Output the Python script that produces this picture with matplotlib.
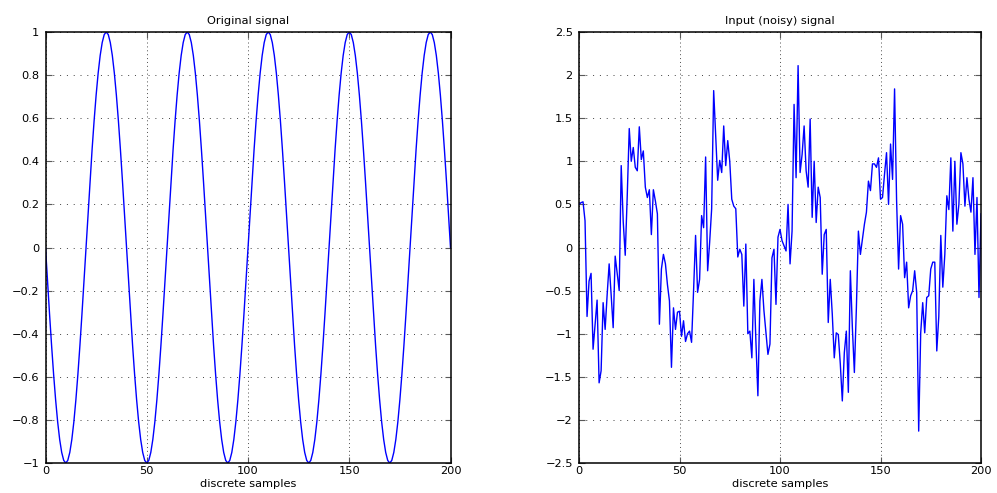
import matplotlib
matplotlib.use("Agg")
import matplotlib.pyplot as plt
from matplotlib.ticker import FuncFormatter

plt.rcParams['font.family'] = ['DejaVu Sans']

# ---- data -------------------------------------------------------------
samples = list(range(201))

original = [
    0, -0.156, -0.309, -0.454, -0.588, -0.707, -0.809, -0.891, -0.951, -0.988,
    -1, -0.988, -0.951, -0.891, -0.809, -0.707, -0.588, -0.454, -0.309, -0.156,
    0, 0.156, 0.309, 0.454, 0.588, 0.707, 0.809, 0.891, 0.951, 0.988,
    1, 0.988, 0.951, 0.891, 0.809, 0.707, 0.588, 0.454, 0.309, 0.156,
    0, -0.156, -0.309, -0.454, -0.588, -0.707, -0.809, -0.891, -0.951, -0.988,
    -1, -0.988, -0.951, -0.891, -0.809, -0.707, -0.588, -0.454, -0.309, -0.156,
    0, 0.156, 0.309, 0.454, 0.588, 0.707, 0.809, 0.891, 0.951, 0.988,
    1, 0.988, 0.951, 0.891, 0.809, 0.707, 0.588, 0.454, 0.309, 0.156,
    0, -0.156, -0.309, -0.454, -0.588, -0.707, -0.809, -0.891, -0.951, -0.988,
    -1, -0.988, -0.951, -0.891, -0.809, -0.707, -0.588, -0.454, -0.309, -0.156,
    0, 0.156, 0.309, 0.454, 0.588, 0.707, 0.809, 0.891, 0.951, 0.988,
    1, 0.988, 0.951, 0.891, 0.809, 0.707, 0.588, 0.454, 0.309, 0.156,
    0, -0.156, -0.309, -0.454, -0.588, -0.707, -0.809, -0.891, -0.951, -0.988,
    -1, -0.988, -0.951, -0.891, -0.809, -0.707, -0.588, -0.454, -0.309, -0.156,
    0, 0.156, 0.309, 0.454, 0.588, 0.707, 0.809, 0.891, 0.951, 0.988,
    1, 0.988, 0.951, 0.891, 0.809, 0.707, 0.588, 0.454, 0.309, 0.156,
    0, -0.156, -0.309, -0.454, -0.588, -0.707, -0.809, -0.891, -0.951, -0.988,
    -1, -0.988, -0.951, -0.891, -0.809, -0.707, -0.588, -0.454, -0.309, -0.156,
    0, 0.156, 0.309, 0.454, 0.588, 0.707, 0.809, 0.891, 0.951, 0.988,
    1, 0.988, 0.951, 0.891, 0.809, 0.707, 0.588, 0.454, 0.309, 0.156,
    0,
]

noisy = [
    0.50, 0.52, 0.53, 0.31, -0.80, -0.39, -0.30, -1.18, -0.90, -0.61,
    -1.57, -1.43, -0.64, -0.95, -0.55, -0.19, -0.55, -0.93, -0.10, -0.30,
    -0.50, 0.95, 0.30, -0.09, 0.60, 1.38, 1.00, 1.16, 0.93, 0.89,
    1.40, 1.02, 1.12, 0.70, 0.58, 0.67, 0.15, 0.67, 0.54, 0.39,
    -0.89, -0.25, -0.08, -0.19, -0.43, -0.62, -1.39, -0.70, -0.95, -0.75,
    -0.74, -1.03, -0.85, -1.09, -1.00, -0.97, -1.10, -0.50, 0.14, -0.52,
    -0.37, 0.37, 0.23, 1.05, -0.27, 0.06, 0.45, 1.82, 1.30, 0.78,
    1.01, 0.87, 1.41, 0.95, 1.24, 1.00, 0.56, 0.48, 0.45, -0.11,
    -0.02, -0.08, -0.68, 0.04, -1.00, -0.97, -1.28, -0.37, -1.08, -1.72,
    -0.62, -0.37, -0.73, -0.99, -1.24, -1.12, -0.12, -0.02, -0.66, 0.12,
    0.21, 0.08, 0.02, -0.04, 0.50, -0.19, 0.19, 1.66, 0.81, 2.11,
    0.87, 1.08, 1.41, 0.89, 0.70, 1.49, 0.35, 1.00, 0.29, 0.70,
    0.58, -0.31, 0.15, 0.21, -0.87, -0.37, -0.77, -1.28, -0.99, -1.01,
    -1.35, -1.78, -1.22, -0.97, -1.68, -0.27, -0.93, -1.45, -0.70, 0.19,
    -0.08, 0.10, 0.27, 0.41, 0.77, 0.66, 0.97, 0.97, 0.93, 1.04,
    0.56, 0.58, 0.85, 1.10, 0.50, 1.20, 0.79, 1.84, 0.55, -0.25,
    0.37, 0.27, -0.35, -0.17, -0.70, -0.56, -0.50, -0.27, -0.52, -2.13,
    -0.99, -0.64, -0.99, -0.58, -0.56, -0.25, -0.17, -0.17, -1.20, -0.80,
    0.14, -0.46, -0.08, 0.60, 0.44, 1.04, 0.19, 1.00, 0.27, 0.50,
    1.10, 0.97, 0.48, 0.81, 0.56, 0.41, 0.81, -0.08, 0.58, -0.58,
    0.39,
]

titles = ["Original signal", "Input (noisy) signal"]
xlabel = "discrete samples"
xticks = [0, 50, 100, 150, 200]
left_yticks = [-1, -0.8, -0.6, -0.4, -0.2, 0, 0.2, 0.4, 0.6, 0.8, 1]
right_yticks = [-2.5, -2, -1.5, -1, -0.5, 0, 0.5, 1, 1.5, 2, 2.5]

# ---- figure -----------------------------------------------------------
W, H = 997, 493
fig = plt.figure(figsize=(W / 100, H / 100), dpi=100)

def px_axes(x0, x1, y0, y1):
    return fig.add_axes([x0 / W, (H - y1) / H, (x1 - x0) / W, (y1 - y0) / H])

ax1 = px_axes(45.5, 450.5, 32, 463)
ax2 = px_axes(579, 981, 32, 463)

fmt = FuncFormatter(lambda v, p: ("%g" % v).replace("-", "\u2212"))
FS = 8.2

for ax, y, ttl, yt in [(ax1, original, titles[0], left_yticks),
                       (ax2, noisy, titles[1], right_yticks)]:
    ax.plot(samples, y, color=(0, 0, 1), linewidth=1.0)
    ax.set_xlim(0, 200)
    ax.set_ylim(yt[0], yt[-1])
    ax.set_xticks(xticks)
    ax.set_yticks(yt)
    ax.xaxis.set_major_formatter(fmt)
    ax.yaxis.set_major_formatter(fmt)
    ax.tick_params(direction='in', length=4, width=0.8, top=True, right=True,
                   labelsize=FS, color='0.35')
    ax.tick_params(axis='y', pad=4.5)
    ax.tick_params(axis='x', pad=2.5)
    ax.xaxis.grid(True, linestyle=(0, (1, 3)), color='0.3', linewidth=0.7)
    ax.yaxis.grid(True, linestyle=(0, (1, 6)), color='0.25', linewidth=0.7)
    for s in ax.spines.values():
        s.set_linewidth(1.1)
        s.set_color('black')
    ax.set_title(ttl, fontsize=FS, pad=6)
    ax.set_xlabel(xlabel, fontsize=FS, labelpad=2)

fig.savefig("out.png", dpi=100)
